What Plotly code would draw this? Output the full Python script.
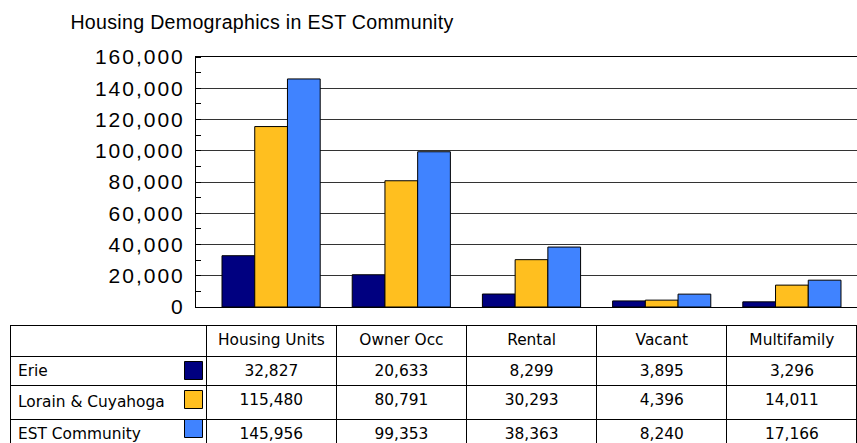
import plotly.graph_objects as go

categories = ["Housing Units", "Owner Occ", "Rental", "Vacant", "Multifamily"]
series_names = ["Erie", "Lorain & Cuyahoga", "EST Community"]
erie = [32827, 20633, 8299, 3895, 3296]
lorain_cuyahoga = [115480, 80791, 30293, 4396, 14011]
est_community = [145956, 99353, 38363, 8240, 17166]
y_tick_values = [0, 20000, 40000, 60000, 80000, 100000, 120000, 140000, 160000]
colors = ["#000080", "#FFBF1F", "#4083FF"]
title_text = "Housing Demographics in EST Community"

W, H = 857, 443
series_values = [erie, lorain_cuyahoga, est_community]


def ls(text, sp):
    return f"<span style='letter-spacing:{sp}px'>{text}</span>"


fig = go.Figure()
for name, vals, col in zip(series_names, series_values, colors):
    fig.add_trace(go.Bar(
        x=categories, y=vals, name=name,
        marker=dict(color=col, line=dict(color="black", width=1)),
        showlegend=False,
    ))

header_vals = [""] + categories
cell_vals = [series_names]
for i in range(len(categories)):
    cell_vals.append([f"{s[i]:,}" for s in series_values])

table_font = dict(family="DejaVu Sans", size=15.4, color="black")
fig.add_trace(go.Table(
    domain=dict(x=[10 / W, 1], y=[0, 1 - 325 / H]),
    columnwidth=[196, 130, 130, 130, 130, 130],
    header=dict(values=header_vals, height=31, align="center",
                fill=dict(color="rgba(0,0,0,0)"),
                line=dict(color="black", width=1), font=table_font),
    cells=dict(values=cell_vals, height=29,
               align=["left"] + ["center"] * 5,
               fill=dict(color="rgba(0,0,0,0)"),
               line=dict(color="black", width=1), font=table_font),
))

fig.add_trace(go.Scatter(
    x=["key"] * len(series_names), y=series_names, mode="markers",
    marker=dict(symbol="square", size=18, color=colors,
                line=dict(color="black", width=1)),
    xaxis="x2", yaxis="y2", showlegend=False, hoverinfo="skip",
))

fig.update_layout(
    width=W, height=H,
    margin=dict(l=0, r=0, t=0, b=0, autoexpand=False),
    paper_bgcolor="white", plot_bgcolor="rgba(0,0,0,0)",
    bargap=0.246, bargroupgap=0,
    title=dict(text=ls(title_text, 0.3), x=262 / W, xanchor="center",
               y=1 - 22 / H, yanchor="middle", yref="container",
               font=dict(family="Liberation Sans, Arial", size=19.6, color="black")),
    xaxis=dict(domain=[196 / W, 1], range=[-0.5 - 10 / 130.2, 4.5],
               showticklabels=False, ticks="", showgrid=False,
               showline=True, mirror=True, linecolor="black", linewidth=1,
               zeroline=False, automargin=False),
    yaxis=dict(domain=[1 - 307 / H, 1 - 57 / H], range=[0, 160000],
               tickmode="array", tickvals=y_tick_values,
               ticktext=[ls(f"{v:,}", 2) for v in y_tick_values],
               tickfont=dict(family="Liberation Sans, Arial", size=21, color="black"),
               ticks="", ticklabelstandoff=6, automargin=False,
               showgrid=True, gridcolor="#333333", gridwidth=1,
               showline=True, linecolor="black", linewidth=1, zeroline=False,
               minor=dict(tick0=0, dtick=10000, ticks="inside", ticklen=5,
                          tickcolor="black", showgrid=False)),
    xaxis2=dict(domain=[183 / W, 204 / W], type="category", range=[-0.5, 0.5],
                visible=False, fixedrange=True),
    yaxis2=dict(domain=[0, 1 - 356 / H], type="category", range=[2.5, -0.5],
                visible=False, fixedrange=True),
)

fig.write_html(
    "out.html",
    config={"displayModeBar": False},
    post_script="document.body.style.margin='0';document.body.style.overflow='hidden';",
)
